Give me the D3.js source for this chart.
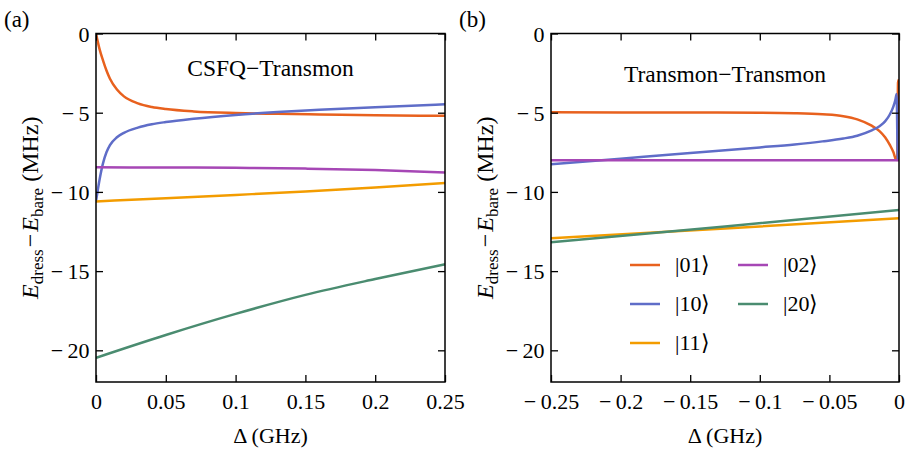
<!DOCTYPE html>
<html><head><meta charset="utf-8">
<script src="https://cdn.jsdelivr.net/npm/d3@7"></script>
<style>
body{margin:0;background:#fff}
svg text{font-family:"Liberation Serif","Times New Roman",serif;fill:#000}
</style>
</head><body>
<svg id="c" width="905" height="452"></svg>
<script>
// ---------- data ----------
const seriesKeys = ["01","10","11","02","20"];
const seriesLabels = ["|01⟩","|10⟩","|11⟩","|02⟩","|20⟩"];
const seriesColors = ["#E8611E","#5F6DC8","#F39C00","#A647B5","#4A8C70"];

const xTicksA = [0,0.05,0.1,0.15,0.2,0.25];
const xTickLabelsA = ["0","0.05","0.1","0.15","0.2","0.25"];
const xTicksB = [-0.25,-0.2,-0.15,-0.1,-0.05,0];
const xTickLabelsB = ["−\u20090.25","−\u20090.2","−\u20090.15","−\u20090.1","−\u20090.05","0"];
const yTicks = [0,-5,-10,-15,-20];
const yTickLabels = ["0","−\u20095","−\u200910","−\u200915","−\u200920"];
const yDomain = [-22,0];

// panel (a) CSFQ–Transmon
const a01x = [0,0.0025,0.005,0.0075,0.01,0.015,0.02,0.03,0.04,0.05,0.07,0.1,0.13,0.16,0.2,0.25];
const a01y = [0,-0.97,-1.70,-2.34,-2.86,-3.54,-3.97,-4.41,-4.64,-4.77,-4.92,-5.02,-5.07,-5.11,-5.16,-5.20];
const a10x = [0,0.0025,0.005,0.0075,0.01,0.015,0.02,0.03,0.04,0.05,0.07,0.1,0.13,0.16,0.2,0.25];
const a10y = [-10.6,-9.25,-8.2,-7.5,-7.05,-6.55,-6.27,-5.94,-5.73,-5.59,-5.38,-5.14,-4.96,-4.82,-4.65,-4.47];
const a11x = [0,0.05,0.1,0.15,0.2,0.25];
const a11y = [-10.6,-10.40,-10.19,-9.97,-9.72,-9.43];
const a02x = [0,0.05,0.1,0.15,0.2,0.25];
const a02y = [-8.45,-8.46,-8.48,-8.53,-8.62,-8.77];
const a20x = [0,0.05,0.1,0.15,0.2,0.25];
const a20y = [-20.47,-19.03,-17.7,-16.5,-15.5,-14.57];

// panel (b) Transmon–Transmon
const b01x = [-0.25,-0.15,-0.1,-0.075,-0.055,-0.04,-0.03,-0.02,-0.014,-0.01,-0.0065,-0.004,-0.0022,-0.0013,-0.0007,0];
const b01y = [-4.97,-4.99,-5.0,-5.03,-5.1,-5.22,-5.42,-5.8,-6.16,-6.55,-7.05,-7.5,-7.95,-7.98,-3.1,-2.9];
const b10x = [-0.25,-0.2,-0.15,-0.1,-0.075,-0.055,-0.04,-0.03,-0.02,-0.014,-0.01,-0.0065,-0.004,-0.0025,-0.0017,-0.0009,0];
const b10y = [-8.25,-7.9,-7.55,-7.19,-7.0,-6.81,-6.63,-6.45,-6.13,-5.85,-5.55,-5.1,-4.6,-4.15,-3.82,-7.9,-8.0];
const b11x = [-0.25,-0.125,0];
const b11y = [-12.93,-12.31,-11.67];
const b02x = [-0.25,-0.125,0];
const b02y = [-8.0,-8.0,-8.0];
const b20x = [-0.25,-0.125,0];
const b20y = [-13.18,-12.18,-11.14];

const legendOrder = ["01","02","10","20","11"];

// ---------- drawing ----------
const svg = d3.select("#c");
const FONT = "Liberation Serif, Times New Roman, serif";
const plotTop = 33.5, plotBottom = 382;

const zip = (xs, ys) => xs.map((x,i)=>[x, ys[i]]);
const panels = [
  {id:"a", left:96, right:445, xdom:[0,0.25], xticks:xTicksA, xlabels:xTickLabelsA,
   title:"CSFQ−Transmon", titleY:76, tag:"(a)", tagX:4,
   data:{"01":zip(a01x,a01y),"10":zip(a10x,a10y),"11":zip(a11x,a11y),"02":zip(a02x,a02y),"20":zip(a20x,a20y)}},
  {id:"b", left:551, right:899, xdom:[-0.25,0], xticks:xTicksB, xlabels:xTickLabelsB,
   title:"Transmon−Transmon", titleY:82, tag:"(b)", tagX:459,
   data:{"01":zip(b01x,b01y),"10":zip(b10x,b10y),"11":zip(b11x,b11y),"02":zip(b02x,b02y),"20":zip(b20x,b20y)}}
];

panels.forEach(p => {
  const x = d3.scaleLinear().domain(p.xdom).range([p.left, p.right]);
  const y = d3.scaleLinear().domain(yDomain).range([plotBottom, plotTop]);
  const g = svg.append("g");

  g.append("clipPath").attr("id","clip"+p.id).append("rect")
    .attr("x",p.left).attr("y",plotTop).attr("width",p.right-p.left).attr("height",plotBottom-plotTop);

  const line = d3.line().x(d=>x(d[0])).y(d=>y(d[1])).curve(d3.curveMonotoneX);
  const lg = g.append("g").attr("clip-path","url(#clip"+p.id+")");
  seriesKeys.forEach((k,i)=>{
    lg.append("path").attr("d", line(p.data[k])).attr("fill","none")
      .attr("stroke", seriesColors[i]).attr("stroke-width",2.5).attr("stroke-linejoin","round");
  });

  // axes (ticks)
  const fmtX = d => p.xlabels[p.xticks.indexOf(d)];
  const bx = g.append("g").attr("transform",`translate(0,${plotBottom})`)
    .call(d3.axisBottom(x).tickValues(p.xticks).tickSize(-7).tickPadding(11).tickFormat(fmtX));
  const tx = g.append("g").attr("transform",`translate(0,${plotTop})`)
    .call(d3.axisTop(x).tickValues(p.xticks).tickSize(-7).tickFormat(""));
  const ly = g.append("g").attr("transform",`translate(${p.left},0)`)
    .call(d3.axisLeft(y).tickValues(yTicks).tickSize(-7).tickFormat(""));
  const ry = g.append("g").attr("transform",`translate(${p.right},0)`)
    .call(d3.axisRight(y).tickValues(yTicks).tickSize(-7).tickFormat(""));
  [bx,tx,ly,ry].forEach(a=>{
    a.select(".domain").remove();
    a.attr("font-family",FONT).attr("font-size",22);
    a.selectAll("text").attr("font-family",FONT).attr("fill","#000");
    a.selectAll("line").attr("stroke","#000").attr("stroke-width",1.3);
  });

  // y tick labels, right-aligned by measurement
  const ylab = g.append("g").attr("font-size",22);
  yTicks.forEach((v,i)=>{
    const t = ylab.append("text").attr("y", Math.round(y(v)) + 7.6).attr("x",0).text(yTickLabels[i]);
    const w = t.node().getComputedTextLength();
    t.attr("x", p.left - 6.5 - w);
  });

  g.append("rect").attr("x",p.left).attr("y",plotTop).attr("width",p.right-p.left)
    .attr("height",plotBottom-plotTop).attr("fill","none").attr("stroke","#000").attr("stroke-width",1.5);

  // x label
  g.append("text").attr("x",(p.left+p.right)/2).attr("y",443).attr("text-anchor","middle")
    .attr("font-size",22).text("Δ (GHz)");

  // y label
  const yl = g.append("text").attr("transform",`translate(${p.left-58},${(plotTop+plotBottom)/2}) rotate(-90)`)
    .attr("text-anchor","middle").attr("font-size",24);
  yl.append("tspan").attr("font-style","italic").text("E");
  yl.append("tspan").attr("font-size",17).attr("dy",5).text("dress");
  yl.append("tspan").attr("dy",-5).attr("dx",2).text("−");
  yl.append("tspan").attr("font-style","italic").attr("dx",2).text("E");
  yl.append("tspan").attr("font-size",17).attr("dy",5).text("bare");
  yl.append("tspan").attr("dy",-5).text(" (MHz)");

  // title
  g.append("text").attr("x",(p.left+p.right)/2).attr("y",p.titleY).attr("text-anchor","middle")
    .attr("font-size",23.5).text(p.title);

  // panel tag
  g.append("text").attr("x",p.tagX).attr("y",27).attr("font-size",23).text(p.tag);

  // legend in panel b
  if (p.id === "b") {
    const colX = [630, 738], rowY = [265, 304, 343];
    legendOrder.forEach((k, j) => {
      const i = seriesKeys.indexOf(k);
      const cx = colX[j % 2], cy = rowY[Math.floor(j / 2)];
      g.append("line").attr("x1",cx).attr("x2",cx+30).attr("y1",cy).attr("y2",cy)
        .attr("stroke",seriesColors[i]).attr("stroke-width",2.5);
      g.append("text").attr("x",cx+45).attr("y",cy).attr("dy","0.3em").attr("font-size",22)
        .text(seriesLabels[i]);
    });
  }
});
</script>
</body></html>
